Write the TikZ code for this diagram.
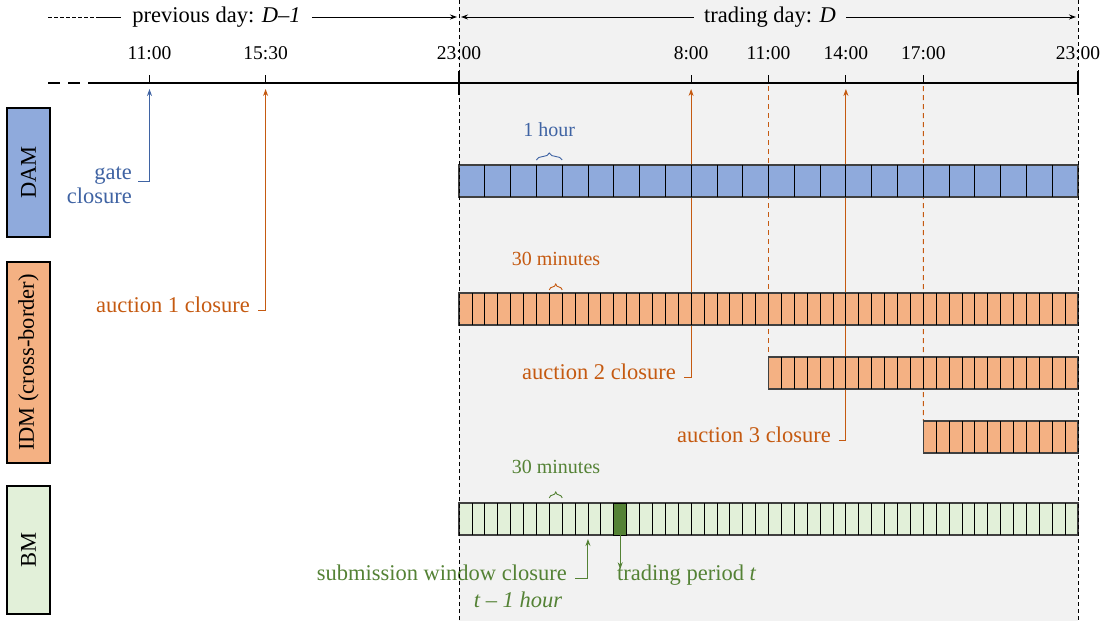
\documentclass[tikz,border=0pt]{standalone}
\usepackage{fontspec}
\setmainfont{Liberation Serif}
\usetikzlibrary{arrows.meta,decorations.pathreplacing,calc}
\definecolor{damfill}{HTML}{8FAADC}
\definecolor{damc}{HTML}{3F63A3}
\definecolor{idmfill}{HTML}{F4B183}
\definecolor{idmc}{HTML}{C55A11}
\definecolor{bmfill}{HTML}{E2F0D9}
\definecolor{bmdark}{HTML}{548235}
\definecolor{bmc}{HTML}{548235}
\definecolor{dayshade}{HTML}{F2F2F2}
\pgfdeclarelayer{bg}
\pgfsetlayers{bg,main}
\begin{document}
\begin{tikzpicture}[x=1pt,y=-1pt,
  txt/.style={font=\fontsize{22.5}{25}\selectfont, inner sep=0pt, text height=0.7em, text depth=0.2em},
  txtml/.style={font=\fontsize{22.5}{24}\selectfont, inner sep=0pt},
  timelbl/.style={font=\fontsize{19.5}{22}\selectfont, inner sep=0pt, text height=0.7em, text depth=0.2em},
  spanlbl/.style={font=\fontsize{20}{23}\selectfont, inner sep=0pt, text height=0.7em, text depth=0.2em},
  mkt/.style={draw=black, line width=1.2pt, rotate=90, minimum height=43pt, inner sep=0pt,
    font=\fontsize{22.5}{25}\selectfont},
  slotrow/.style={draw=black!75, line width=1.2pt, minimum height=32pt, inner sep=0pt, outer sep=0pt, anchor=north west},
  slotdiv/.style={line width=0.8pt, black},
  tip/.style={-{Stealth[length=7pt,width=5pt]}},
  conn/.style={line width=1pt, tip},
  sep/.style={dash pattern=on 4pt off 3pt, line width=0.8pt},
  span/.style={decorate, decoration={brace, amplitude=7pt}, line width=0.9pt},
]
\useasboundingbox (0,0) rectangle (1101,624);

% trading day shading
\begin{pgfonlayer}{bg}
  \fill[dayshade] (459,0) rectangle (1078,621);
\end{pgfonlayer}

% market labels
\node[mkt, fill=damfill, minimum width=129pt] (dam) at (28.5,172.5) {DAM};
\node[mkt, fill=idmfill, minimum width=201pt] (idm) at (28.5,362.5) {IDM (cross-border)};
\node[mkt, fill=bmfill, minimum width=128pt] (bm) at (28.5,550) {BM};

% product rows
\node[slotrow, fill=damfill, minimum width=619pt] (damrow) at (459,165) {};
\node[slotrow, fill=idmfill, minimum width=619pt] (idm1) at (459,293) {};
\node[slotrow, fill=idmfill, minimum width=309.5pt] (idm2) at (768.5,357) {};
\node[slotrow, fill=idmfill, minimum width=154.75pt] (idm3) at (923.25,421) {};
\node[slotrow, fill=bmfill, minimum width=619pt] (bmrow) at (459,503) {};
\foreach \n/\k/\w in {damrow/23/25.7917, idm1/47/12.8958, idm2/23/12.8958, idm3/11/12.8958, bmrow/47/12.8958} {
  \foreach \i in {1,...,\k}
    \draw[slotdiv] ($(\n.north west)+(\i*\w,0)$) -- ($(\n.south west)+(\i*\w,0)$);
}
\node[draw=black, line width=0.8pt, fill=bmdark, minimum width=12.9pt, minimum height=32pt,
  inner sep=0pt, outer sep=0pt, anchor=north west] (tper) at ($(bmrow.north west)+(12*12.8958,0)$) {};

% timeline
\coordinate (tlA) at (48,83);
\coordinate (tlB) at (97,83);
\coordinate (tlE) at (1078,83);
\draw[line width=2.5pt, dash pattern=on 12pt off 8pt] (tlA) -- (tlB);
\draw[line width=2.5pt] (tlB) -- (tlE);
\coordinate (t11) at (149.5,83);
\coordinate (t1530) at (265.6,83);
\coordinate (t23a) at (459,83);
\coordinate (t8) at (691.1,83);
\coordinate (t11b) at (768.5,83);
\coordinate (t14) at (845.9,83);
\coordinate (t17) at (923.3,83);
\coordinate (t23b) at (1078,83);
\foreach \c in {t11,t1530,t8,t11b,t14,t17}
  \draw[line width=1pt] ([yshift=8pt]\c) -- (\c);
\foreach \c in {t23a,t23b}
  \draw[line width=2.5pt] ([yshift=12pt]\c) -- ([yshift=-12pt]\c);
\foreach \c/\t in {t11/11:00, t1530/15:30, t23a/23:00, t8/8:00, t11b/11:00, t14/14:00, t17/17:00, t23b/23:00}
  \node[timelbl] at ([yshift=26pt]\c) {\t};

% day headers
\coordinate (hdL) at (48,17);
\coordinate (hdM) at (97,17);
\node[txt] (prev) at (216.5,19.5) {previous day: \textit{D–1}};
\node[txt] (trade) at (770,19.5) {trading day: \textit{D}};
\draw[line width=0.9pt, dash pattern=on 4pt off 2pt] (hdL) -- (hdM);
\draw[line width=0.9pt] (hdM) -- ([xshift=-11pt]prev.west |- hdL);
\draw[line width=0.9pt, tip] ([xshift=11pt]prev.east |- hdL) -- (457,17);
\draw[line width=0.9pt, tip] ([xshift=-10pt]trade.west |- hdL) -- (461,17);
\draw[line width=0.9pt, tip] ([xshift=10pt]trade.east |- hdL) -- (1076,17);

% closure labels
\node[txtml, damc, align=right, anchor=east] (gate) at (132,185) {gate\\closure};
\node[txt, idmc, anchor=east] (auc1) at (250,310) {auction 1 closure};
\node[txt, idmc, anchor=east] (auc2) at (676,377) {auction 2 closure};
\node[txt, idmc, anchor=east] (auc3) at (831,440) {auction 3 closure};
\node[txt, bmc, anchor=east] (subm) at (567,578) {submission window closure};
\node[txt, bmc, anchor=west] (tpl) at (617,578) {trading period \textit{t}};
\node[txt, bmc] (lag) at (518,605) {\textit{t – 1 hour}};
\coordinate (swc) at ($(bmrow.south west)+(10*12.8958,0)$);

% closure connectors, kept beneath the rows
\begin{pgfonlayer}{bg}
  \draw[damc, conn] ([xshift=6pt,yshift=4pt]gate.east) -| ([yshift=-6pt]t11);
  \draw[idmc, conn] ([xshift=8pt]auc1.east) -| ([yshift=-6pt]t1530);
  \draw[idmc, conn] ([xshift=8pt]auc2.east) -| ([yshift=-6pt]t8);
  \draw[idmc, conn] ([xshift=8pt]auc3.east) -| ([yshift=-6pt]t14);
  \draw[idmc, line width=1pt, dash pattern=on 5pt off 4pt] ([yshift=-3pt]t11b) -- (idm2.north west);
  \draw[idmc, line width=1pt, dash pattern=on 5pt off 4pt] ([yshift=-3pt]t17) -- (idm3.north west);
\end{pgfonlayer}
\draw[bmc, conn] ([xshift=8pt]subm.east) -| ([yshift=-4pt]swc);
\draw[bmc, conn] (tper.south) -- ([yshift=4pt]tper.south |- tpl.north);

% slot length braces
\draw[damc, span] (536.4,160) -- (562.2,160);
\node[spanlbl, damc] (hr) at (549.3,134) {1 hour};
\draw[idmc, span, decoration={amplitude=6pt}] (549.3,290) -- (562.2,290);
\node[spanlbl, idmc] (mi) at (556,263) {30 minutes};
\draw[bmc, span, decoration={amplitude=6pt}] (549.3,498) -- (562.2,498);
\node[spanlbl, bmc] (mb) at (556,471) {30 minutes};

% day boundaries
\draw[sep] (459,0) -- (459,621);
\draw[sep] (1078,0) -- (1078,621);
\end{tikzpicture}
\end{document}
